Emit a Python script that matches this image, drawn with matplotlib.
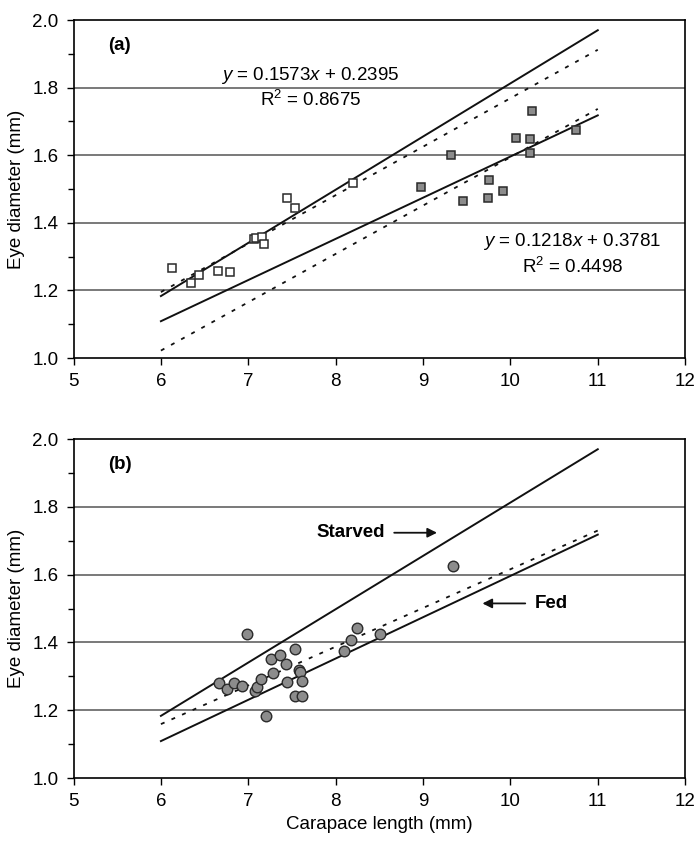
import matplotlib
matplotlib.use("Agg")
import matplotlib.pyplot as plt
import numpy as np

plt.rcParams['font.family'] = ['Liberation Sans', 'DejaVu Sans']
plt.rcParams['mathtext.fontset'] = 'custom'
plt.rcParams['mathtext.rm'] = 'Liberation Sans'
plt.rcParams['mathtext.it'] = 'Liberation Sans:italic'

# ---- data ----
open_x = [6.13, 6.35, 6.44, 6.65, 6.79, 7.06, 7.09, 7.16, 7.18, 7.44, 7.53, 8.20]
open_y = [1.267, 1.221, 1.246, 1.256, 1.254, 1.353, 1.355, 1.359, 1.338, 1.473, 1.445, 1.519]

grey_x = [8.98, 9.32, 9.46, 9.74, 9.76, 9.91, 10.06, 10.22, 10.22, 10.25, 10.75]
grey_y = [1.507, 1.601, 1.465, 1.473, 1.528, 1.495, 1.652, 1.649, 1.606, 1.730, 1.675]

circ_x = [6.67, 6.76, 6.84, 6.93, 6.98, 7.08, 7.10, 7.14, 7.20, 7.26, 7.28, 7.36, 7.43,
          7.44, 7.53, 7.58, 7.59, 7.62, 7.54, 7.61, 8.10, 8.18, 8.24, 8.51, 9.34]
circ_y = [1.279, 1.264, 1.281, 1.270, 1.426, 1.257, 1.269, 1.292, 1.182, 1.352, 1.309, 1.362, 1.335,
          1.284, 1.380, 1.319, 1.312, 1.286, 1.242, 1.242, 1.375, 1.407, 1.443, 1.426, 1.626]

line_x = [6, 11]
starved_slope, starved_int = 0.1573, 0.2395
fed_slope, fed_int = 0.1218, 0.3781
dash_a_upper = [1.195, 1.912]
dash_a_lower = [1.022, 1.737]
dash_b = [1.159, 1.730]

x_ticks = [5, 6, 7, 8, 9, 10, 11, 12]
y_ticks = [1.0, 1.2, 1.4, 1.6, 1.8, 2.0]

FS = 13.5
grey_fill = '#8c8c8c'
edge = '#2a2a2a'
dash_style = (0, (2.2, 4.2))

fig = plt.figure(figsize=(6.97, 8.41), dpi=100)
ax_a = fig.add_axes([0.1055, 0.5743, 0.8775, 0.4019])
ax_b = fig.add_axes([0.1055, 0.0749, 0.8775, 0.4031])

def style(ax):
    ax.set_xlim(5, 12)
    ax.set_ylim(1.0, 2.0)
    ax.set_xticks(x_ticks)
    ax.set_xticklabels([str(v) for v in x_ticks])
    ax.set_yticks(y_ticks)
    ax.set_yticklabels([f"{v:.1f}" for v in y_ticks])
    ax.set_yticks(np.arange(1.1, 2.0, 0.2), minor=True)
    ax.tick_params(axis='both', which='major', direction='out', length=5, width=1,
                   labelsize=FS, color='black', pad=6)
    ax.tick_params(axis='y', which='minor', direction='out', length=4, width=1)
    for v in y_ticks[1:-1]:
        ax.axhline(v, color='#555555', lw=1.1, zorder=0)
    for s in ax.spines.values():
        s.set_color('black')
        s.set_linewidth(1.2)
    ax.set_ylabel('Eye diameter (mm)', fontsize=FS, labelpad=5)

def reg(xs, m, c):
    return [m * v + c for v in xs]

# ---- panel (a) ----
style(ax_a)
ax_a.plot(line_x, reg(line_x, starved_slope, starved_int), color='#111111', lw=1.4, zorder=2)
ax_a.plot(line_x, reg(line_x, fed_slope, fed_int), color='#111111', lw=1.4, zorder=2)
ax_a.plot(line_x, dash_a_upper, color='#111111', lw=1.3, ls=dash_style, zorder=2)
ax_a.plot(line_x, dash_a_lower, color='#111111', lw=1.3, ls=dash_style, zorder=2)
ax_a.plot(open_x, open_y, ls='none', marker='s', ms=6.4, mfc='white', mec=edge, mew=1.1, zorder=3)
ax_a.plot(grey_x, grey_y, ls='none', marker='s', ms=6.4, mfc=grey_fill, mec=edge, mew=1.1, zorder=3)
ax_a.text(5.40, 1.926, '(a)', fontsize=FS, fontweight='bold', ha='left', va='center')
ax_a.text(7.71, 1.837, '$y$ = 0.1573$x$ + 0.2395', fontsize=FS, ha='center', va='center')
ax_a.text(7.71, 1.763, 'R$^2$ = 0.8675', fontsize=FS, ha='center', va='center')
ax_a.text(10.71, 1.344, '$y$ = 0.1218$x$ + 0.3781', fontsize=FS, ha='center', va='center')
ax_a.text(10.71, 1.269, 'R$^2$ = 0.4498', fontsize=FS, ha='center', va='center')

# ---- panel (b) ----
style(ax_b)
ax_b.plot(line_x, reg(line_x, starved_slope, starved_int), color='#111111', lw=1.4, zorder=2)
ax_b.plot(line_x, reg(line_x, fed_slope, fed_int), color='#111111', lw=1.4, zorder=2)
ax_b.plot(line_x, dash_b, color='#111111', lw=1.3, ls=dash_style, zorder=2)
ax_b.plot(circ_x, circ_y, ls='none', marker='o', ms=7.6, mfc=grey_fill, mec=edge, mew=1.0, zorder=3)
ax_b.text(5.40, 1.924, '(b)', fontsize=FS, fontweight='bold', ha='left', va='center')
ax_b.text(8.56, 1.7235, 'Starved', fontsize=FS, fontweight='bold', ha='right', va='center')
ax_b.annotate('', xy=(9.16, 1.7235), xytext=(8.67, 1.7235),
              arrowprops=dict(arrowstyle='-|>', color='#111111', lw=1.3,
                              mutation_scale=14, shrinkA=0, shrinkB=0))
ax_b.text(10.28, 1.515, 'Fed', fontsize=FS, fontweight='bold', ha='left', va='center')
ax_b.annotate('', xy=(9.68, 1.515), xytext=(10.17, 1.515),
              arrowprops=dict(arrowstyle='-|>', color='#111111', lw=1.3,
                              mutation_scale=14, shrinkA=0, shrinkB=0))
ax_b.set_xlabel('Carapace length (mm)', fontsize=FS, labelpad=4)

fig.savefig('out.png', dpi=100)
